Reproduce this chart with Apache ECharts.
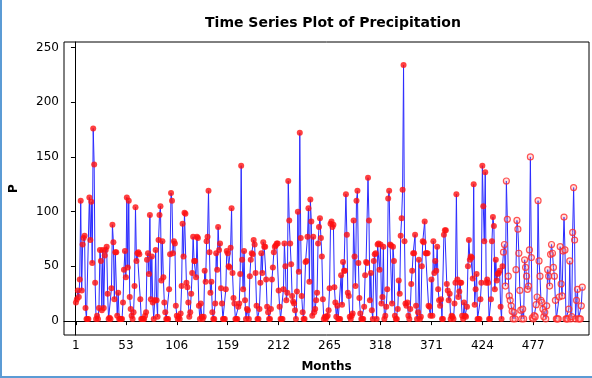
<!DOCTYPE html>
<html>
<head>
<meta charset="utf-8">
<script src="https://cdn.jsdelivr.net/npm/echarts@6/dist/echarts.min.js"></script>
<style>
html,body{margin:0;padding:0;background:#fff;}
#chart{width:592px;height:378px;}
</style>
</head>
<body>
<div id="chart"></div>
<script>
// Monthly precipitation (P), months 1..528
const precip1 = [
  17,20,28,22,38,110,28,70,76,78,
  12,2,2,2,113,74,109,53,176,143,
  35,2,5,2,12,65,55,10,65,12,
  60,65,68,25,2,3,2,30,88,72,
  20,63,63,5,26,2,2,2,2,17,
  47,64,40,113,49,110,22,11,5,2,
  8,32,104,55,62,63,61,20,2,2,
  2,2,5,8,56,62,43,97,20,59,
  17,2,19,65,19,4,74,97,105,37,
  73,40,17,8,2,2,2,29,61,117
];
const precip2 = [
  110,62,73,71,14,5,2,4,2,7,
  32,89,59,99,98,35,31,17,4,8,
  25,44,77,55,55,40,77,76,14,2,
  16,4,2,4,46,36,73,77,119,63,
  26,36,8,2,2,16,62,47,86,65,
  71,30,16,2,2,2,29,64,62,50,
  49,67,103,44,21,16,2,2,2,13,
  16,43,142,56,29,64,19,2,11,10,
  2,41,56,62,61,74,70,44,14,2,
  2,11,35,62,44,72,68,68,38,13
];
const precip3 = [
  8,2,2,11,38,49,63,68,69,71,
  71,28,13,2,2,2,29,71,50,19,
  26,128,92,71,52,23,18,16,10,2,
  27,100,45,172,76,23,8,2,2,54,
  55,77,103,36,111,91,5,77,8,11,
  19,26,71,86,94,76,59,20,2,4,
  2,4,5,10,30,89,91,86,88,31,
  17,4,14,2,2,2,42,15,54,46,
  46,116,79,26,23,4,2,5,7,92,
  59,32,110,119,53,21,7,2,2,2
];
const precip4 = [
  13,42,54,53,131,92,19,44,10,2,
  55,61,62,2,70,71,47,70,16,22,
  68,2,5,13,29,112,119,70,69,16,
  68,55,5,2,2,11,37,25,78,94,
  120,234,73,16,14,17,5,2,11,34,
  46,62,62,79,14,2,8,56,2,4,
  50,73,72,91,62,62,62,14,13,5,
  38,5,73,44,55,46,68,29,19,14,
  20,2,2,79,83,83,34,28,19,25,
  2,5,4,2,16,35,116,38,22,27
];
const precip5 = [
  35,35,5,2,17,5,4,13,50,74,
  56,59,58,39,125,15,29,43,2,2,
  2,20,35,142,105,73,136,35,38,35,
  2,2,20,73,95,87,29,56,37,43,
  44,46,13,2,50,63,70,32,128,93,
  41,23,19,14,9,2,8,2,47,92,
  84,62,28,10,2,11,2,56,49,41,
  29,32,65,150,58,3,2,5,4,15,
  22,110,55,41,19,17,11,4,8,2,
  14,47,41,32,61,70,62,49,41,19
];
const precip6 = [
  2,2,2,22,68,34,23,64,95,65,
  2,2,2,11,55,2,4,81,122,74,
  2,19,29,2,2,2,14,31
];
const xTicks = [1,53,106,159,212,265,318,371,424,477];
const yTicks = [0,50,100,150,200,250];
const hollowFrom = 446; // months drawn as open circles

const values = precip1.concat(precip2, precip3, precip4, precip5, precip6);
const allPts = values.map((v,i)=>[i+1,v]);
const filledPts = allPts.filter(p=>p[0] < hollowFrom);
const hollowPts = allPts.filter(p=>p[0] >= hollowFrom);

const chart = echarts.init(document.getElementById('chart'), null, {renderer:'canvas'});
const font = 'DejaVu Sans';
chart.setOption({
  animation:false,
  backgroundColor:'#ffffff',
  title:{
    text:'Time Series Plot of Precipitation',
    left:328, top:11, textAlign:'center',
    textStyle:{fontFamily:font, fontSize:14, fontWeight:'bold', color:'#000'}
  },
  grid:{left:62, top:42, right:3, bottom:40, show:true, borderColor:'#000', borderWidth:1, backgroundColor:'#fff'},
  xAxis:{
    type:'value', min:-11.4, max:535,
    name:'Months', nameLocation:'middle', nameGap:26,
    nameTextStyle:{fontFamily:font, fontSize:12, fontWeight:'bold', color:'#000'},
    axisLine:{show:true, lineStyle:{color:'#000', width:1}},
    axisTick:{show:true, length:4, customValues:xTicks, lineStyle:{color:'#000'}},
    axisLabel:{customValues:xTicks, fontFamily:font, fontSize:12, color:'#000', margin:5},
    splitLine:{show:false}
  },
  yAxis:{
    type:'value', min:-12.7, max:255,
    name:'P', nameLocation:'middle', nameGap:44, nameRotate:90,
    nameTextStyle:{fontFamily:font, fontSize:12, fontWeight:'bold', color:'#000'},
    axisLine:{show:true, lineStyle:{color:'#000', width:1}},
    axisTick:{show:true, length:4, customValues:yTicks, lineStyle:{color:'#000'}},
    axisLabel:{customValues:yTicks, fontFamily:font, fontSize:12, color:'#000', margin:5},
    splitLine:{show:false}
  },
  series:[
    {type:'line', data:allPts, symbol:'none', lineStyle:{color:'#2b2bff', width:1}, z:2},
    {type:'scatter', data:filledPts, symbol:'circle', symbolSize:6, itemStyle:{color:'#ff1010'}, z:3},
    {type:'scatter', data:hollowPts, symbol:'circle', symbolSize:6,
      itemStyle:{color:'rgba(255,150,150,0.35)', borderColor:'#ff2a2a', borderWidth:1.2}, z:3}
  ],
  graphic:[
    {type:'line', shape:{x1:1, y1:0, x2:1, y2:377}, style:{stroke:'#5b9bd5', lineWidth:2}, silent:true},
    {type:'line', shape:{x1:0, y1:377, x2:592, y2:377}, style:{stroke:'#5b9bd5', lineWidth:2}, silent:true}
  ]
});
</script>
</body>
</html>
